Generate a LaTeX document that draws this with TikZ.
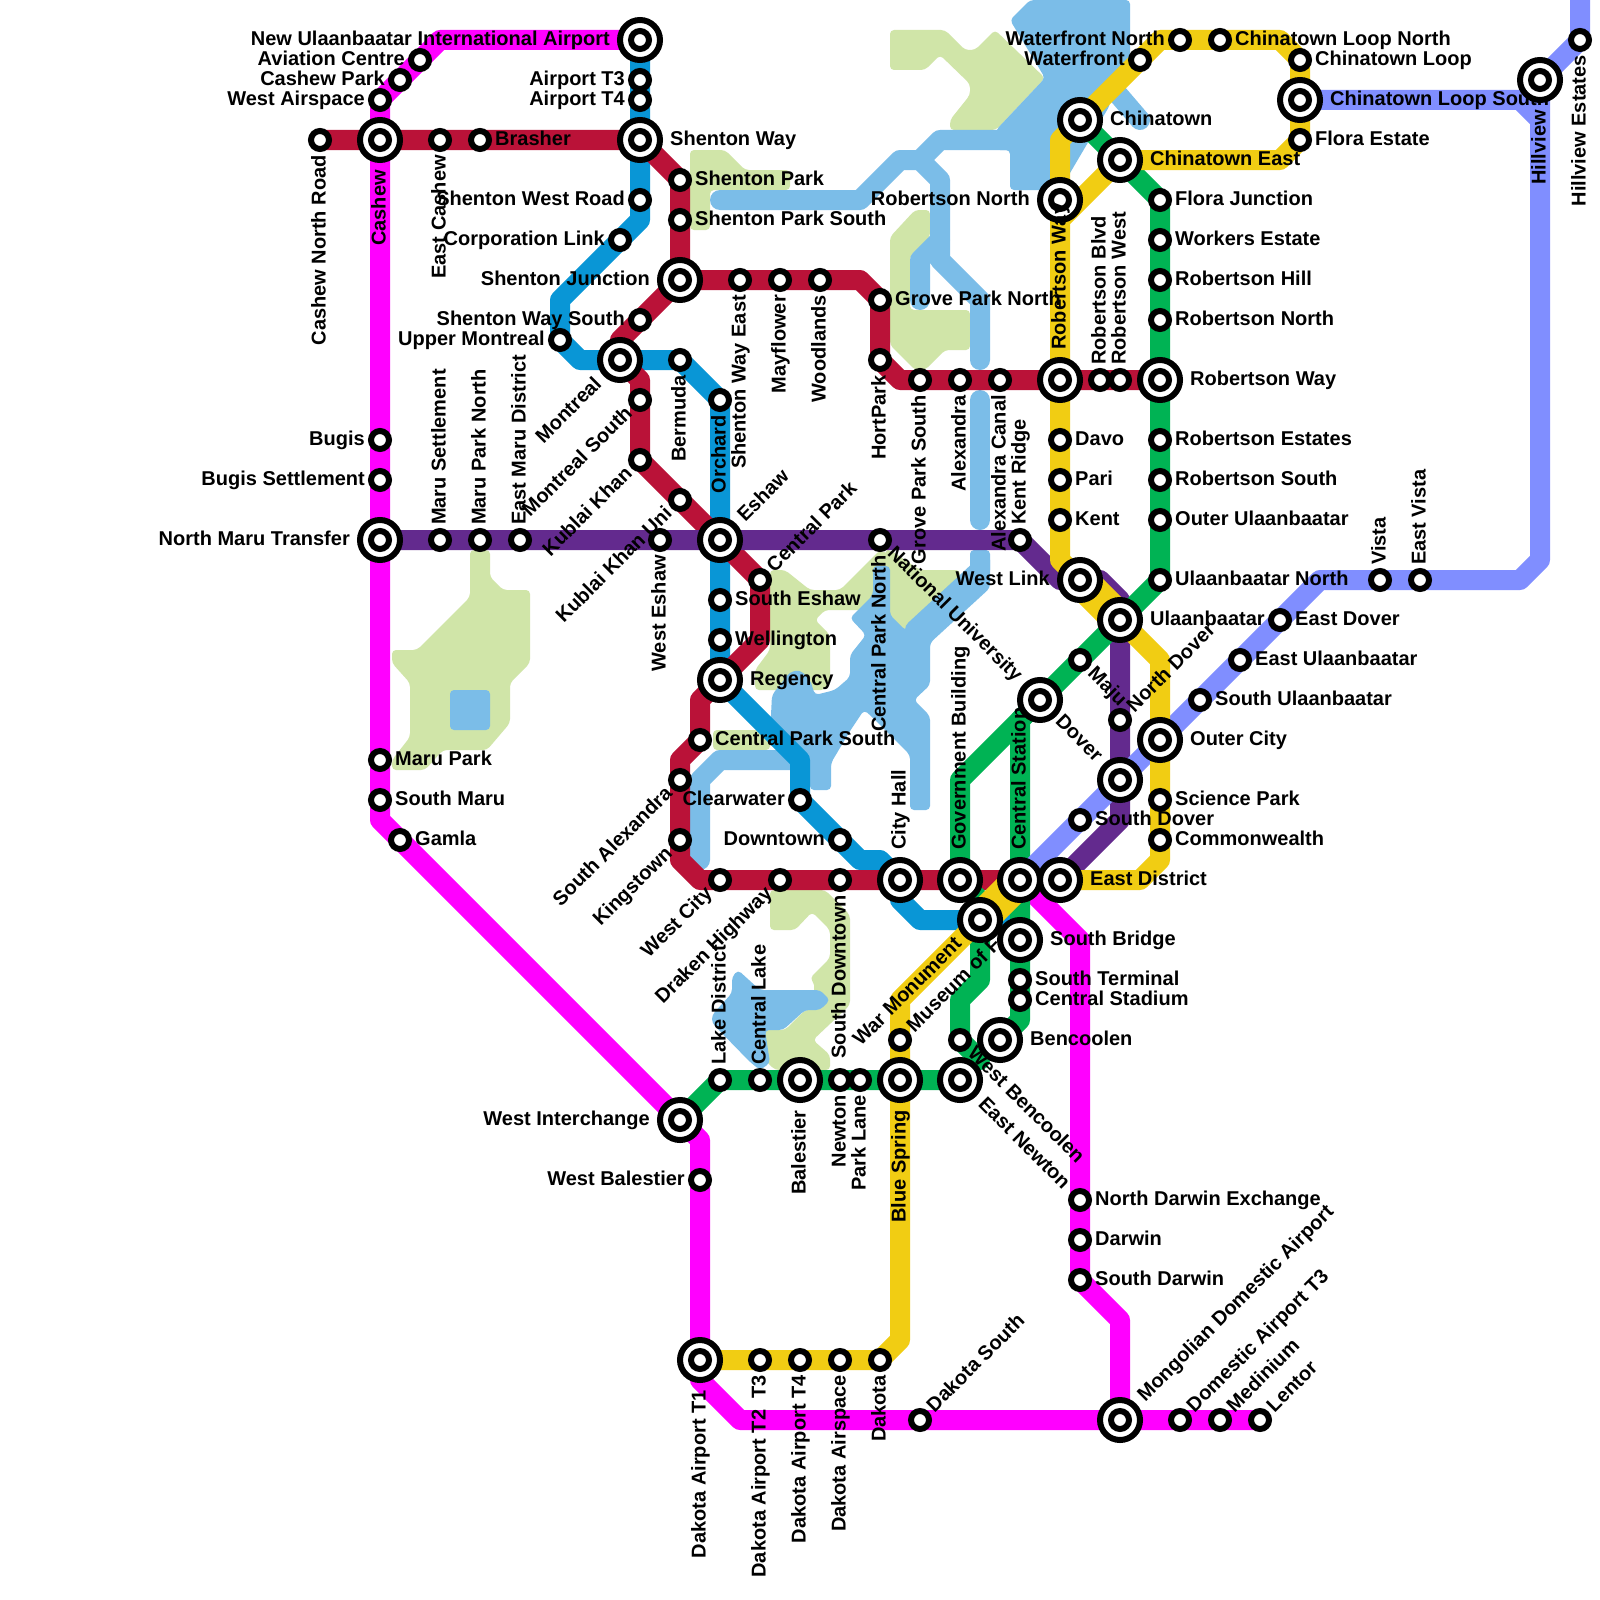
\documentclass[tikz,border=0pt]{standalone}
\usepackage{fontspec}
\setmainfont{Liberation Sans}
\usepackage{xcolor}
\definecolor{magentaline}{HTML}{FF00FF}
\definecolor{maroonline}{HTML}{BA1238}
\definecolor{blueline}{HTML}{0996D6}
\definecolor{purpleline}{HTML}{632A8E}
\definecolor{greenline}{HTML}{00B354}
\definecolor{periline}{HTML}{808EFF}
\definecolor{yellowline}{HTML}{F1CD13}
\definecolor{watercolor}{HTML}{7BBDE8}
\definecolor{parkcolor}{HTML}{D0E5A8}
\pgfdeclarelayer{parks}
\pgfdeclarelayer{lines}
\pgfdeclarelayer{labels}
\pgfsetlayers{parks,lines,labels,main}
\tikzset{
  stn/.style={circle,draw=black,fill=white,line width=6pt,minimum size=18pt,inner sep=0pt,outer sep=0pt},
  hub/.style={stn,minimum size=40pt},
  metro/.style={line width=20pt,line join=round,line cap=round},
  park/.style={fill=parkcolor,rounded corners=4pt},
  water/.style={fill=watercolor,rounded corners=4pt},
  waterline/.style={draw=watercolor,line width=20pt,line join=round,line cap=round},
  lbl/.style={font=\bfseries\fontsize{20}{20}\selectfont,inner sep=0pt,text height=13pt,text depth=2pt},
  lE/.style={lbl,anchor=west,xshift=\lblgap},
  lW/.style={lbl,anchor=east,xshift=-\lblgap},
  lU/.style={lbl,rotate=90,anchor=west,xshift=\lblgap},
  lD/.style={lbl,rotate=90,anchor=east,xshift=-\lblgap},
  lNE/.style={lbl,rotate=45,anchor=west,xshift=\lblgap},
  lSW/.style={lbl,rotate=45,anchor=east,xshift=-\lblgap},
  lSE/.style={lbl,rotate=-45,anchor=west,xshift=\lblgap},
  lNW/.style={lbl,rotate=-45,anchor=east,xshift=-\lblgap},
}
\newcommand{\smallstn}[5]{%
  \node[stn] (#2) at (#3,#4) {};
  \def\lblgap{15pt}
  \begin{pgfonlayer}{labels}\node[#1] (#2-l) at (#3,#4) {#5};\end{pgfonlayer}}
\newcommand{\bigstn}[5]{%
  \node[hub] (#2) at (#3,#4) {};
  \node[stn] (#2-c) at (#3,#4) {};
  \def\lblgap{30pt}
  \begin{pgfonlayer}{labels}\node[#1] (#2-l) at (#3,#4) {#5};\end{pgfonlayer}}

\begin{document}
\begin{tikzpicture}[x=1pt,y=-1pt]
    \useasboundingbox (0,0) rectangle (1600,1600);

    % West side
    \smallstn{lD}{cashewnorth}{320}{140}{Cashew North Road}
    \bigstn{lD}{cashew}{380}{140}{Cashew}
    \smallstn{lD}{eastcashew}{440}{140}{East Cashew}
    \smallstn{lE}{brasher}{480}{140}{Brasher}
    \smallstn{lW}{westairspace}{380}{100}{West Airspace}
    \smallstn{lW}{cashewpark}{400}{80}{Cashew Park}
    \smallstn{lW}{aviation}{420}{60}{Aviation Centre}
    \smallstn{lW}{bugis}{380}{440}{Bugis}
    \smallstn{lW}{bugisset}{380}{480}{Bugis Settlement}
    \bigstn{lW}{northmaru}{380}{540}{North Maru Transfer}
    \smallstn{lU}{maruset}{440}{540}{Maru Settlement}
    \smallstn{lU}{maruparkn}{480}{540}{Maru Park North}
    \smallstn{lU}{eastmaru}{520}{540}{East Maru District}
    \smallstn{lE}{marupark}{380}{760}{Maru Park}
    \smallstn{lE}{southmaru}{380}{800}{South Maru}
    \smallstn{lE}{gamla}{400}{840}{Gamla}

    % Airport and Shenton
    \bigstn{lW}{intairport}{640}{40}{New Ulaanbaatar International Airport}
    \smallstn{lW}{airportt3}{640}{80}{Airport T3}
    \smallstn{lW}{airportt4}{640}{100}{Airport T4}
    \bigstn{lE}{shentonway}{640}{140}{Shenton Way}
    \smallstn{lW}{shentonwest}{640}{200}{Shenton West Road}
    \smallstn{lW}{corplink}{620}{240}{Corporation Link}
    \smallstn{lE}{shentonpark}{680}{180}{Shenton Park}
    \smallstn{lE}{shentonparks}{680}{220}{Shenton Park South}
    \bigstn{lW}{shentonjct}{680}{280}{Shenton Junction}
    \smallstn{lD}{shentoneast}{740}{280}{Shenton Way East}
    \smallstn{lD}{mayflower}{780}{280}{Mayflower}
    \smallstn{lD}{woodlands}{820}{280}{Woodlands}
    \smallstn{lW}{shentonsouth}{640}{320}{Shenton Way South}
    \smallstn{lW}{uppermontreal}{560}{340}{Upper Montreal}
    \bigstn{lSW}{montreal}{620}{360}{Montreal}
    \smallstn{lD}{bermuda}{680}{360}{Bermuda}
    \smallstn{lSW}{montreals}{640}{400}{Montreal South}
    \smallstn{lD}{orchard}{720}{400}{Orchard}
    \smallstn{lSW}{kublai}{640}{460}{Kublai Khan}
    \smallstn{lSW}{kublaiuni}{680}{500}{Kublai Khan Uni}
    \smallstn{lD}{westeshaw}{660}{540}{West Eshaw}
    \bigstn{lNE}{eshaw}{720}{540}{Eshaw}

    % Central
    \smallstn{lNE}{centralpark}{760}{580}{Central Park}
    \smallstn{lE}{southeshaw}{720}{600}{South Eshaw}
    \smallstn{lE}{wellington}{720}{640}{Wellington}
    \bigstn{lE}{regency}{720}{680}{Regency}
    \smallstn{lE}{centralparks}{700}{740}{Central Park South}
    \smallstn{lSW}{southalex}{680}{780}{South Alexandra}
    \smallstn{lSW}{kingstown}{680}{840}{Kingstown}
    \smallstn{lW}{clearwater}{800}{800}{Clearwater}
    \smallstn{lW}{downtown}{840}{840}{Downtown}
    \smallstn{lSW}{westcity}{720}{880}{West City}
    \smallstn{lSW}{draken}{780}{880}{Draken Highway}
    \smallstn{lD}{southdowntown}{840}{880}{South Downtown}
    \bigstn{lU}{cityhall}{900}{880}{City Hall}
    \bigstn{lU}{govbuilding}{960}{880}{Government Building}
    \bigstn{lU}{centralstation}{1020}{880}{Central Station}
    \bigstn{lE}{eastdistrict}{1060}{880}{East District}
    \bigstn{lSW}{warmonument}{980}{920}{War Monument}
    \bigstn{lE}{southbridge}{1020}{940}{South Bridge}
    \smallstn{lE}{southterminal}{1020}{980}{South Terminal}
    \smallstn{lE}{centralstadium}{1020}{1000}{Central Stadium}
    \smallstn{lNE}{museum}{900}{1040}{Museum of F}
    \smallstn{lSE}{westbencoolen}{960}{1040}{West Bencoolen}
    \bigstn{lE}{bencoolen}{1000}{1040}{Bencoolen}

    % Groves and Robertson
    \smallstn{lE}{grovenorth}{880}{300}{Grove Park North}
    \smallstn{lD}{hortpark}{880}{360}{HortPark}
    \smallstn{lD}{grovesouth}{920}{380}{Grove Park South}
    \smallstn{lD}{alexandra}{960}{380}{Alexandra}
    \smallstn{lD}{alexcanal}{1000}{380}{Alexandra Canal}
    \smallstn{lD}{centralparkn}{880}{540}{Central Park North}
    \smallstn{lU}{kentridge}{1020}{540}{Kent Ridge}
    \bigstn{lW}{robnorthw}{1060}{200}{Robertson North}
    \bigstn{lE}{chinatown}{1080}{120}{Chinatown}
    \bigstn{lE}{chinatowneast}{1120}{160}{Chinatown East}
    \bigstn{lE}{robway}{1160}{380}{Robertson Way}
    \smallstn{lU}{robblvd}{1100}{380}{Robertson Blvd}
    \smallstn{lU}{robwest}{1120}{380}{Robertson West}
    \smallstn{lE}{davo}{1060}{440}{Davo}
    \smallstn{lE}{pari}{1060}{480}{Pari}
    \smallstn{lE}{kent}{1060}{520}{Kent}
    \smallstn{lE}{florajct}{1160}{200}{Flora Junction}
    \smallstn{lE}{workers}{1160}{240}{Workers Estate}
    \smallstn{lE}{robhill}{1160}{280}{Robertson Hill}
    \smallstn{lE}{robnorth}{1160}{320}{Robertson North}
    \smallstn{lE}{robestates}{1160}{440}{Robertson Estates}
    \smallstn{lE}{robsouth}{1160}{480}{Robertson South}
    \smallstn{lE}{outerulaan}{1160}{520}{Outer Ulaanbaatar}
    \smallstn{lE}{ulaannorth}{1160}{580}{Ulaanbaatar North}
    \smallstn{lW}{waterfrontn}{1180}{40}{Waterfront North}
    \smallstn{lE}{loopnorth}{1220}{40}{Chinatown Loop North}
    \smallstn{lW}{waterfront}{1140}{60}{Waterfront}
    \smallstn{lE}{loop}{1300}{60}{Chinatown Loop}
    \bigstn{lE}{loopsouth}{1300}{100}{Chinatown Loop South}
    \smallstn{lE}{floraestate}{1300}{140}{Flora Estate}
    \bigstn{lD}{hillview}{1540}{80}{Hillview}
    \smallstn{lD}{hillviewest}{1580}{40}{Hillview Estates}

    % Dover and Ulaanbaatar
    \smallstn{lU}{vista}{1380}{580}{Vista}
    \smallstn{lU}{eastvista}{1420}{580}{East Vista}
    \smallstn{lE}{eastdover}{1280}{620}{East Dover}
    \smallstn{lE}{eastulaan}{1240}{660}{East Ulaanbaatar}
    \smallstn{lE}{southulaan}{1200}{700}{South Ulaanbaatar}
    \bigstn{lW}{westlink}{1080}{580}{West Link}
    \bigstn{lE}{ulaanbaatar}{1120}{620}{Ulaanbaatar}
    \smallstn{lSE}{maju}{1080}{660}{Maju}
    \bigstn{lNW}{natuni}{1040}{700}{National University}
    \smallstn{lNE}{northdover}{1120}{720}{North Dover}
    \bigstn{lE}{outercity}{1160}{740}{Outer City}
    \bigstn{lNW}{dover}{1120}{780}{Dover}
    \smallstn{lE}{sciencepark}{1160}{800}{Science Park}
    \smallstn{lE}{southdover}{1080}{820}{South Dover}
    \smallstn{lE}{commonwealth}{1160}{840}{Commonwealth}

    % South
    \bigstn{lW}{westinter}{680}{1120}{West Interchange}
    \smallstn{lW}{westbalestier}{700}{1180}{West Balestier}
    \smallstn{lU}{lakedistrict}{720}{1080}{Lake District}
    \smallstn{lU}{centrallake}{760}{1080}{Central Lake}
    \bigstn{lD}{balestier}{800}{1080}{Balestier}
    \smallstn{lD}{newton}{840}{1080}{Newton}
    \smallstn{lD}{parklane}{860}{1080}{Park Lane}
    \bigstn{lD}{bluespring}{900}{1080}{Blue Spring}
    \bigstn{lSE}{eastnewton}{960}{1080}{East Newton}
    \smallstn{lE}{northdarwin}{1080}{1200}{North Darwin Exchange}
    \smallstn{lE}{darwin}{1080}{1240}{Darwin}
    \smallstn{lE}{southdarwin}{1080}{1280}{South Darwin}
    \bigstn{lD}{dakotat1}{700}{1360}{Dakota Airport T1}
    \smallstn{lD}{dakotat2}{760}{1360}{Dakota Airport T2 \ T3}
    \smallstn{lD}{dakotat4}{800}{1360}{Dakota Airport T4}
    \smallstn{lD}{dakotaair}{840}{1360}{Dakota Airspace}
    \smallstn{lD}{dakota}{880}{1360}{Dakota}
    \smallstn{lNE}{dakotasouth}{920}{1420}{Dakota South}
    \bigstn{lNE}{mongolian}{1120}{1420}{Mongolian Domestic Airport}
    \smallstn{lNE}{domestict3}{1180}{1420}{Domestic Airport T3}
    \smallstn{lNE}{medinium}{1220}{1420}{Medinium}
    \smallstn{lNE}{lentor}{1260}{1420}{Lentor}

    % This one lies over the station north of it
    \bigstn{lE}{robwalk}{1060}{380}{}
    \def\lblgap{30pt}
    \node[lU] (robwalk-t) at (robwalk) {Robertson Way};

    \begin{pgfonlayer}{lines}
    % Magenta
    \draw[metro,magentaline] (intairport.center) -- (440,40) -- (380,100) -- (380,820) -- (westinter.center) -- (700,1140) -- (700,1380) -- (740,1420) -- (lentor.center);
    \draw[metro,magentaline] (centralstation.center) -- (1080,940) -- (1080,1280) -- (1120,1320) -- (mongolian.center);
    % Blue
    \draw[metro,blueline] (intairport.center) -- (640,220) -- (560,300) -- (560,340) -- (580,360) -- (680,360) -- (720,400) -- (regency.center) -- (800,760) -- (800,800) -- (860,860) -- (880,860) -- (900,880) -- (900,900) -- (920,920) -- (1000,920) -- (centralstation.center);
    % Maroon
    \draw[metro,maroonline] (cashewnorth.center) -- (shentonway.center) -- (680,180) -- (shentonjct.center) -- (620,340) -- (montreal.center) -- (640,380) -- (640,460) -- (eshaw.center) -- (760,580) -- (760,640) -- (regency.center) -- (700,700) -- (700,740) -- (680,760) -- (680,860) -- (700,880) -- (centralstation.center);
    \draw[metro,maroonline] (shentonjct.center) -- (860,280) -- (880,300) -- (880,360) -- (900,380) -- (robway.center);
    % Purple
    \draw[metro,purpleline] (northmaru.center) -- (kentridge.center) -- (1060,580) -- (1100,580) -- (1120,600) -- (1120,820) -- (eastdistrict.center);
    % Green
    \draw[metro,greenline] (chinatown.center) -- (1160,200) -- (1160,580) -- (natuni.center) -- (960,780) -- (govbuilding.center) -- (980,900) -- (980,980) -- (960,1000) -- (westbencoolen.center) -- (980,1060);
    \draw[metro,greenline] (natuni.center) -- (1020,720) -- (1020,1020) -- (bencoolen.center);
    \draw[metro,greenline] (westinter.center) -- (720,1080) -- (eastnewton.center);
    % Periwinkle
    \draw[metro,periline] (loopsouth.center) -- (1520,100) -- (1540,120);
    \draw[metro,periline] (1580,-20) -- (hillviewest.center) -- (hillview.center) -- (1540,560) -- (1520,580) -- (1320,580) -- (centralstation.center);
    % Yellow
    \draw[metro,yellowline] (robwalk.center) -- (1060,140) -- (chinatown.center) -- (1160,40) -- (1280,40) -- (1300,60) -- (1300,140) -- (1280,160) -- (chinatowneast.center) -- (1060,220);
    \draw[metro,yellowline] (robwalk.center) -- (1060,560) -- (1080,580) -- (1160,660) -- (1160,860) -- (1140,880) -- (eastdistrict.center);
    \draw[metro,yellowline] (dakotat1.center) -- (880,1360) -- (900,1340) -- (900,1000) -- (warmonument.center) -- (1000,900);
    \draw[yellowline,line width=34pt,line cap=round] (1090,590) -- (1110,610);
    \draw[yellowline,line width=34pt,line cap=round] (990,910) -- (1010,890);
    \end{pgfonlayer}

    \begin{pgfonlayer}{parks}
    \fill[white] (0,0) rectangle (1600,1600);
    % Parks
    \fill[park] (470,597) -- (470,550) -- (490,550) -- (490,577) -- (503,590) -- (530,590) -- (530,663) -- (510,683) -- (510,723) -- (487,750) -- (443,750) -- (425,770) -- (392,770) -- (392,760) -- (410,737) -- (410,683) -- (392,663) -- (392,650) -- (417,650) -- cycle;
    \fill[park] (690,150) -- (725,150) -- (745,170) -- (790,170) -- (790,190) -- (710,190) -- (710,230) -- (690,230) -- cycle;
    \fill[park] (890,30) -- (945,30) -- (965,50) -- (975,50) -- (995,30) -- (1045,78) -- (996,130) -- (950,130) -- (950,120) -- (970,95) -- (970,84) -- (940,55) -- (925,70) -- (890,70) -- cycle;
    \fill[park] (890,237) -- (915,210) -- (930,210) -- (930,237) -- (910,256) -- (910,310) -- (970,310) -- (970,350) -- (945,350) -- (925,370) -- (915,370) -- (890,345) -- cycle;
    \fill[park] (770,570) -- (785,570) -- (810,590) -- (840,590) -- (880,550) -- (890,555) -- (890,610) -- (860,610) -- (825,610) -- (815,620) -- (830,635) -- (830,680) -- (825,690) -- (755,690) -- (755,670) -- (770,650) -- cycle;
    \fill[park] (885,550) -- (890,550) -- (920,570) -- (960,570) -- (960,586) -- (915,630) -- (904,630) -- (885,610) -- cycle;
    \fill[park] (713,730) -- (770,730) -- (770,750) -- (713,750) -- cycle;
    \fill[park] (770,890) -- (825,890) -- (850,915) -- (850,1005) -- (813,1040) -- (830,1055) -- (830,1070) -- (775,1070) -- (765,1060) -- (765,1030) -- (785,1030) -- (805,1010) -- (810,1010) -- (815,985) -- (810,978) -- (830,958) -- (830,930) -- (812,912) -- (795,930) -- (770,930) -- cycle;
    % Water
    \fill[water] (450,690) rectangle (490,730);
    \fill[water] (1010,20) -- (1030,0) -- (1130,0) -- (1130,60) -- (1110,85) -- (1110,105) -- (1060,190) -- (1010,190) -- (1010,150) -- (996,150) -- (996,130) -- (1045,78) -- cycle;
    \fill[water] (873,566) -- (890,566) -- (890,615) -- (905,630) -- (915,630) -- (970,582) -- (970,550) -- (990,550) -- (990,588) -- (930,643) -- (930,685) -- (914,700) -- (930,716) -- (930,810) -- (910,810) -- (910,755) -- (870,715) -- (864,710) -- (850,731) -- (831,763) -- (831,790) -- (810,790) -- (810,766) -- (795,740) -- (770,735) -- (772,695) -- (790,672) -- (800,670) -- (810,680) -- (815,695) -- (835,690) -- (850,677) -- (850,655) -- (866,635) -- (850,618) -- (873,595) -- cycle;
    \fill[water] (738,970) -- (760,990) -- (820,990) -- (830,1000) -- (820,1010) -- (805,1010) -- (783,1030) -- (765,1030) -- (770,1063) -- (760,1070) -- (750,1062) -- (712,1023) -- (712,1015) -- (732,993) -- (732,977) -- cycle;
    \draw[waterline] (720,200) -- (860,200) -- (900,160) -- (920,160) -- (940,140) -- (1010,140);
    \draw[waterline] (920,160) -- (940,180) -- (940,240) -- (920,260) -- (920,300);
    \draw[waterline] (940,240) -- (940,260) -- (980,300) -- (980,360);
    \draw[waterline] (980,400) -- (980,520);
    \draw[waterline] (980,560) -- (980,570) -- (915,630);
    \draw[waterline] (1110,85) -- (1140,120);
    \draw[waterline] (700,860) -- (700,780) -- (720,760) -- (790,760);
    \end{pgfonlayer}
\end{tikzpicture}
\end{document}
